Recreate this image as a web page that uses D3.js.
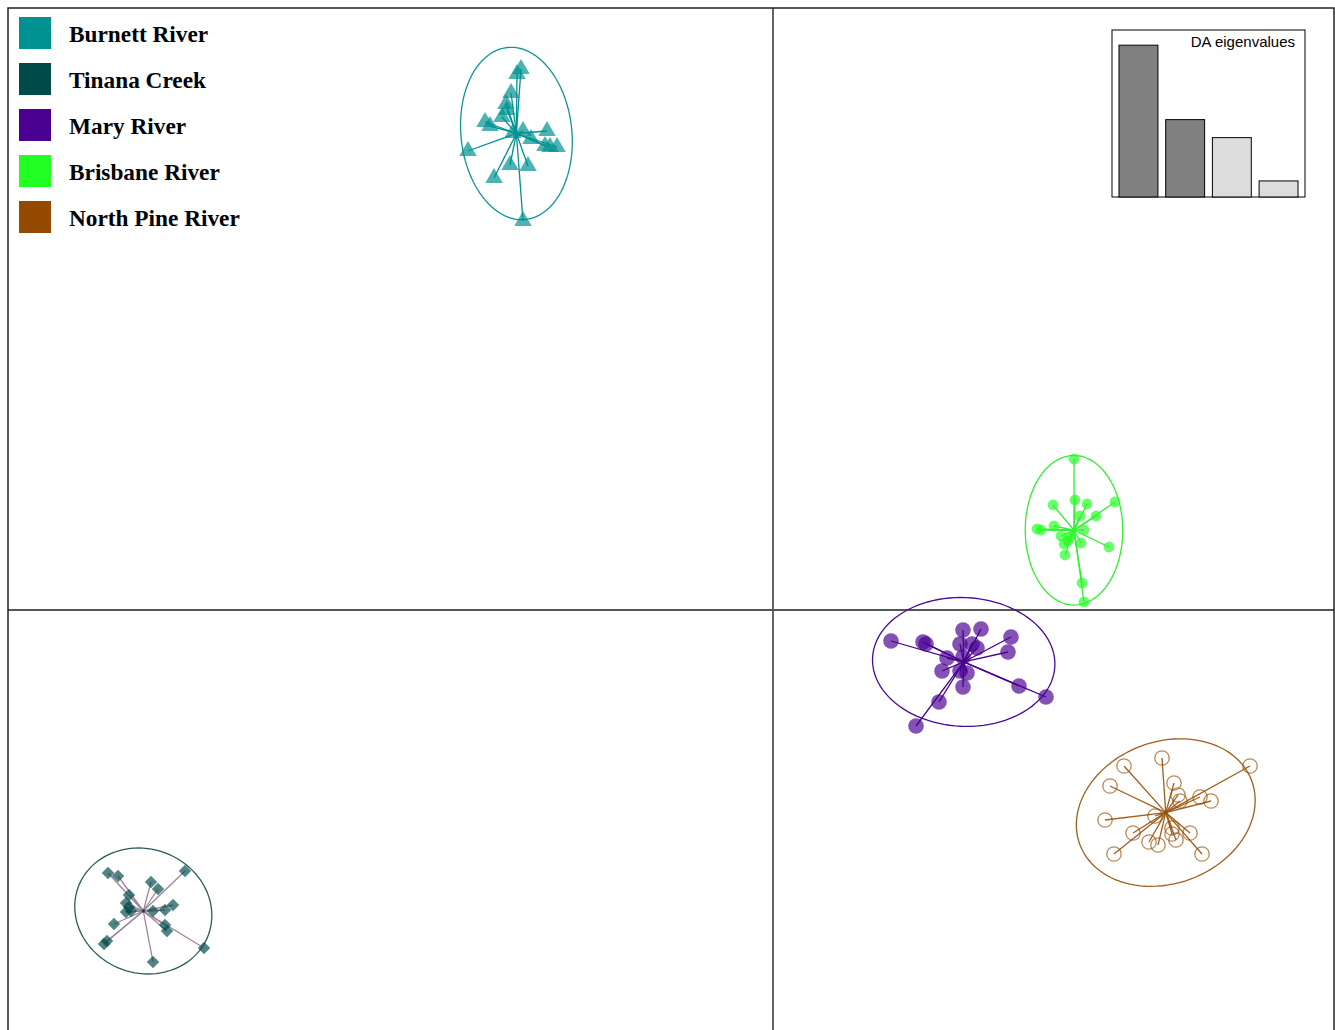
<!DOCTYPE html>
<html>
<head>
<meta charset="utf-8">
<script src="https://cdn.jsdelivr.net/npm/d3@7"></script>
<style>
  body { margin: 0; background: #fff; }
  svg { display: block; }
</style>
</head>
<body>
<svg id="dapc"></svg>
<script>
// DAPC scatter (LD1 x LD2) with inertia ellipses and eigenvalue inset

var groups = ["Burnett River", "Tinana Creek", "Mary River", "Brisbane River", "North Pine River"];
var groupColors = ["#009191", "#004a4a", "#4a0090", "#22ff22", "#944a00"];

// individual scores [LD1, LD2]
var burnett = [[-2.52, 5.41], [-2.56, 5.36], [-2.62, 5.17], [-2.67, 5.06], [-2.66, 5.00],
  [-2.71, 4.93], [-2.88, 4.88], [-2.83, 4.84], [-2.50, 4.79], [-2.42, 4.71],
  [-2.26, 4.79], [-2.28, 4.64], [-2.23, 4.63], [-2.16, 4.63], [-3.05, 4.59],
  [-2.63, 4.45], [-2.45, 4.44], [-2.79, 4.32], [-2.50, 3.89], [-2.60, 4.77]];
var tinana = [[-6.65, -2.63], [-6.55, -2.66], [-5.88, -2.61], [-6.22, -2.72], [-6.15, -2.79],
  [-6.44, -2.85], [-6.47, -2.93], [-6.44, -2.97], [-6.47, -3.02], [-6.42, -3.01],
  [-6.00, -2.95], [-6.08, -3.00], [-6.20, -3.01], [-6.08, -3.15], [-6.06, -3.21],
  [-6.59, -3.14], [-6.66, -3.31], [-6.69, -3.34], [-5.69, -3.38], [-6.20, -3.52]];
var mary = [[1.18, -0.31], [1.50, -0.32], [1.53, -0.34], [1.90, -0.20], [2.08, -0.19],
  [2.38, -0.27], [2.35, -0.42], [1.87, -0.34], [1.99, -0.34], [2.04, -0.38],
  [1.74, -0.48], [1.90, -0.47], [1.69, -0.61], [1.87, -0.61], [1.94, -0.63],
  [1.90, -0.77], [2.46, -0.76], [2.73, -0.87], [1.66, -0.92], [1.43, -1.16]];
var brisbane = [[3.01, 1.51], [3.02, 1.10], [2.80, 1.05], [3.14, 1.06], [3.42, 1.08],
  [3.07, 0.94], [3.23, 0.94], [2.64, 0.81], [2.68, 0.80], [2.81, 0.84],
  [3.11, 0.80], [2.88, 0.74], [2.97, 0.73], [2.91, 0.66], [3.08, 0.67],
  [3.36, 0.63], [2.92, 0.55], [3.09, 0.27], [3.11, 0.08], [2.95, 0.69]];
var northPine = [[3.89, -1.48], [3.51, -1.56], [4.77, -1.56], [3.37, -1.76], [4.01, -1.73],
  [4.05, -1.85], [4.07, -1.91], [4.27, -1.87], [4.38, -1.91], [3.32, -2.10],
  [3.82, -2.06], [3.60, -2.23], [3.99, -2.18], [3.99, -2.24], [4.17, -2.23],
  [3.76, -2.32], [3.85, -2.35], [4.03, -2.30], [3.41, -2.44], [4.29, -2.44]];
var scores = [burnett, tinana, mary, brisbane, northPine];

var eigenvalues = [612.4, 312.1, 239.5, 64.8];
var nRetained = 2;

var W = 1335, H = 1030;
var svg = d3.select("#dapc").attr("width", W).attr("height", H);

var x = d3.scaleLinear().domain([-7.65, 5.61]).range([8, 1334]);
var y = d3.scaleLinear().domain([6.02, -4.30]).range([8, 1040]);

// per-group drawing styles
var shapes = [
  {type: "tri",  size: 17.5},
  {type: "dia",  size: 8.8},
  {type: "circ", size: 7.8},
  {type: "circ", size: 5.4},
  {type: "open", size: 7.2}
];
var segColors = ["#009191", "#9e859e", "#4a0090", "#33ee33", "#a05f1c"];
var ellColors = ["#109595", "#2b5c5c", "#4a0a96", "#33ee33", "#a05f1c"];

// axes through origin
svg.append("line")
  .attr("x1", x(0)).attr("x2", x(0)).attr("y1", y.range()[0]).attr("y2", y.range()[1])
  .attr("stroke", "#555").attr("stroke-width", 1.8);
svg.append("line")
  .attr("y1", y(0)).attr("y2", y(0)).attr("x1", x.range()[0]).attr("x2", x.range()[1])
  .attr("stroke", "#555").attr("stroke-width", 1.8);

// inertia ellipse, ade4 style (weighted variances, coefficient * sqrt eigenvalue)
function inertiaEllipse(pts, coeff) {
  var n = pts.length;
  var mx = d3.mean(pts, function(p) { return p[0]; });
  var my = d3.mean(pts, function(p) { return p[1]; });
  var vx = d3.sum(pts, function(p) { return (p[0] - mx) * (p[0] - mx); }) / n;
  var vy = d3.sum(pts, function(p) { return (p[1] - my) * (p[1] - my); }) / n;
  var cxy = d3.sum(pts, function(p) { return (p[0] - mx) * (p[1] - my); }) / n;
  var delta = Math.sqrt((vx - vy) * (vx - vy) + 4 * cxy * cxy);
  var l1 = (vx + vy + delta) / 2, l2 = Math.max(0, vx + vy - l1);
  var theta = Math.abs(cxy) > 1e-10 ? Math.atan2(l1 - vx, cxy) : (vx >= vy ? 0 : Math.PI / 2);
  var a = coeff * Math.sqrt(l1), b = coeff * Math.sqrt(l2);
  return d3.range(0, 101).map(function(i) {
    var t = 2 * Math.PI * i / 100;
    var u = a * Math.cos(t), v = b * Math.sin(t);
    return [mx + u * Math.cos(theta) - v * Math.sin(theta),
            my + u * Math.sin(theta) + v * Math.cos(theta)];
  });
}

var line = d3.line()
  .x(function(d) { return x(d[0]); })
  .y(function(d) { return y(d[1]); });

scores.forEach(function(pts, gi) {
  var g = svg.append("g").attr("class", "group");
  var cx = d3.mean(pts, function(p) { return p[0]; });
  var cy = d3.mean(pts, function(p) { return p[1]; });

  g.append("path")
    .attr("d", line(inertiaEllipse(pts, 2.5)))
    .attr("fill", "none")
    .attr("stroke", ellColors[gi])
    .attr("stroke-width", 1.3);

  g.selectAll("line.seg")
    .data(pts)
    .enter().append("line")
    .attr("class", "seg")
    .attr("x1", x(cx)).attr("y1", y(cy))
    .attr("x2", function(d) { return x(d[0]); })
    .attr("y2", function(d) { return y(d[1]); })
    .attr("stroke", segColors[gi])
    .attr("stroke-width", 1.3);

  var s = shapes[gi], col = groupColors[gi];
  if (s.type === "tri") {
    g.selectAll("path.pt").data(pts).enter().append("path")
      .attr("class", "pt")
      .attr("d", d3.symbol().type(d3.symbolTriangle).size(Math.sqrt(3) / 4 * s.size * s.size))
      .attr("transform", function(d) { return "translate(" + x(d[0]) + "," + y(d[1]) + ")"; })
      .attr("fill", col).attr("fill-opacity", 0.7);
  } else if (s.type === "dia") {
    g.selectAll("path.pt").data(pts).enter().append("path")
      .attr("class", "pt")
      .attr("d", d3.symbol().type(d3.symbolSquare).size(s.size * s.size))
      .attr("transform", function(d) { return "translate(" + x(d[0]) + "," + y(d[1]) + ") rotate(45)"; })
      .attr("fill", col).attr("fill-opacity", 0.68);
  } else if (s.type === "circ") {
    g.selectAll("circle.pt").data(pts).enter().append("circle")
      .attr("class", "pt")
      .attr("cx", function(d) { return x(d[0]); })
      .attr("cy", function(d) { return y(d[1]); })
      .attr("r", s.size)
      .attr("fill", col).attr("fill-opacity", 0.68);
  } else {
    g.selectAll("circle.pt").data(pts).enter().append("circle")
      .attr("class", "pt")
      .attr("cx", function(d) { return x(d[0]); })
      .attr("cy", function(d) { return y(d[1]); })
      .attr("r", s.size)
      .attr("fill", "none")
      .attr("stroke", col).attr("stroke-opacity", 0.65).attr("stroke-width", 1.3);
  }

  // centroid mark
  g.append("rect")
    .attr("x", x(cx) - 1.5).attr("y", y(cy) - 1.5)
    .attr("width", 3).attr("height", 3)
    .attr("fill", groupColors[gi]);
});

// plot frame
svg.append("rect")
  .attr("x", 8).attr("y", 8)
  .attr("width", 1326).attr("height", 1040)
  .attr("fill", "none").attr("stroke", "#222").attr("stroke-width", 1.5);

// legend
var legend = svg.selectAll(".legend")
  .data(groups)
  .enter().append("g")
  .attr("class", "legend")
  .attr("transform", function(d, i) { return "translate(19," + (17 + i * 46) + ")"; });

legend.append("rect")
  .attr("width", 32).attr("height", 32)
  .attr("fill", function(d, i) { return groupColors[i]; });

legend.append("text")
  .attr("x", 50).attr("y", 25)
  .style("font-family", "'Liberation Serif', 'Times New Roman', serif")
  .style("font-weight", "bold")
  .style("font-size", "23.3px")
  .attr("fill", "#000")
  .text(function(d) { return d; });

// eigenvalue inset
var inset = {left: 1112, top: 30, right: 1305, bottom: 197};
var ex = d3.scaleBand()
  .domain(d3.range(eigenvalues.length))
  .range([1115.1, 1301.9])
  .paddingInner(1 / 6)
  .paddingOuter(1 / 12);
var ey = d3.scaleLinear()
  .domain([0, d3.max(eigenvalues) * 1.1])
  .range([inset.bottom, inset.top]);

svg.append("rect")
  .attr("x", inset.left).attr("y", inset.top)
  .attr("width", inset.right - inset.left).attr("height", inset.bottom - inset.top)
  .attr("fill", "#fff").attr("stroke", "#000").attr("stroke-width", 1);

svg.selectAll(".eig")
  .data(eigenvalues)
  .enter().append("rect")
  .attr("class", "eig")
  .attr("x", function(d, i) { return ex(i); })
  .attr("width", ex.bandwidth())
  .attr("y", function(d) { return ey(d); })
  .attr("height", function(d) { return ey(0) - ey(d); })
  .attr("fill", function(d, i) { return i < nRetained ? "#808080" : "#dcdcdc"; })
  .attr("stroke", "#000").attr("stroke-width", 1);

svg.append("text")
  .attr("x", 1295).attr("y", 47)
  .attr("text-anchor", "end")
  .style("font-family", "'Liberation Sans', Arial, sans-serif")
  .style("font-size", "15px")
  .text("DA eigenvalues");
</script>
</body>
</html>
